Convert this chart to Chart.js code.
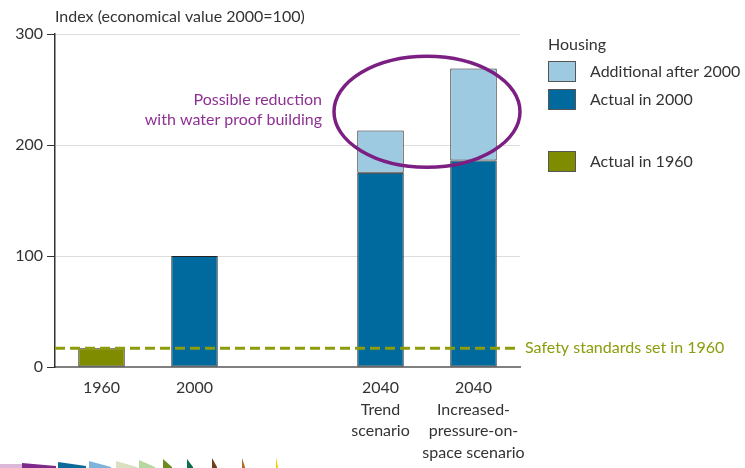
<!DOCTYPE html>
<html>
<head>
<meta charset="utf-8">
<script src="https://cdn.jsdelivr.net/npm/chart.js@4.4.1/dist/chart.umd.min.js"></script>
<style>
  html, body { margin: 0; padding: 0; background: #fff; }
  #wrap { width: 745px; height: 468px; }
</style>
</head>
<body>
<div id="wrap"><canvas id="c" width="745" height="468"></canvas></div>
<script>
// --- data ---
const categories = [['1960'], ['2000'], [''], ['2040', 'Trend', 'scenario'], ['2040', 'Increased-', 'pressure-on-', 'space scenario']];
const actual1960 = [17, null, null, null, null];
const actual2000 = [null, 100, null, 175, 186];
const additionalAfter2000 = [null, null, null, 38, 83];
const safetyLevel = 17;
const yTicks = [0, 100, 200, 300];

const FONT = 'Lato, "Open Sans", sans-serif';
const TEXT = '#333333';
const DARK_BLUE = '#006a9e';
const LIGHT_BLUE = '#9ecae1';
const OLIVE = '#7f8c00';
const SAFETY = '#8d9c0a';
const PURPLE = '#7b1f82';

// decorative strip along the bottom edge
const stripShapes = [
  ['#dcb8d8', 0, 22, 464, 464],
  ['#7d2a8a', 22, 56, 463, 466],
  ['#0a6a9a', 58, 86, 462, 466],
  ['#7fb3dc', 89, 111, 461, 467],
  ['#d9e0bf', 116, 137, 461, 467],
  ['#b7d7a0', 139, 155, 460, 467],
  ['#6f8a1f', 163, 172, 459, 467],
  ['#0e6b4e', 187, 193, 459, 467],
  ['#6b3f1e', 212, 217, 458, 467],
  ['#b06a2a', 242, 245, 458, 467],
  ['#f0d000', 276, 278, 457, 467]
];

const extras = {
  id: 'extras',
  afterDraw(chart) {
    const { ctx, chartArea, scales: { x, y } } = chart;
    ctx.save();

    // safety line
    const sy = y.getPixelForValue(safetyLevel);
    ctx.strokeStyle = SAFETY;
    ctx.lineWidth = 3;
    ctx.setLineDash([10, 5]);
    ctx.beginPath();
    ctx.moveTo(chartArea.left, sy);
    ctx.lineTo(chartArea.right, sy);
    ctx.stroke();
    ctx.setLineDash([]);
    ctx.fillStyle = SAFETY;
    ctx.font = '16px ' + FONT;
    ctx.textBaseline = 'middle';
    ctx.textAlign = 'left';
    ctx.fillText('Safety standards set in 1960', chartArea.right + 5, sy);

    // axis title
    ctx.fillStyle = TEXT;
    ctx.textBaseline = 'middle';
    ctx.fillText('Index (economical value 2000=100)', chartArea.left, 17);

    // ellipse around the 2040 additional parts
    const x3 = x.getPixelForValue(3), x4 = x.getPixelForValue(4);
    const cy = y.getPixelForValue(230);
    const ry = y.getPixelForValue(180) - cy;
    ctx.strokeStyle = PURPLE;
    ctx.lineWidth = 3.5;
    ctx.beginPath();
    ctx.ellipse((x3 + x4) / 2, cy, x4 - x3, ry, 0, 0, Math.PI * 2);
    ctx.stroke();

    // annotation
    ctx.fillStyle = '#8e3193';
    ctx.textAlign = 'right';
    ctx.fillText('Possible reduction', 322, 100);
    ctx.fillText('with water proof building', 322, 120);

    // legend
    ctx.textAlign = 'left';
    ctx.fillStyle = TEXT;
    ctx.fillText('Housing', 548, 45);
    const items = [
      [LIGHT_BLUE, 'Additional after 2000', 61],
      [DARK_BLUE, 'Actual in 2000', 89],
      [OLIVE, 'Actual in 1960', 151]
    ];
    items.forEach(([col, label, top]) => {
      ctx.fillStyle = col;
      ctx.fillRect(548, top, 28, 21);
      ctx.strokeStyle = '#555';
      ctx.lineWidth = 1;
      ctx.strokeRect(548.5, top + 0.5, 27, 20);
      ctx.fillStyle = TEXT;
      ctx.fillText(label, 590, top + 11);
    });

    // bottom strip
    stripShapes.forEach(([col, x0, x1, t0, t1]) => {
      ctx.fillStyle = col;
      ctx.beginPath();
      ctx.moveTo(x0, 468);
      ctx.lineTo(x0, t0);
      ctx.lineTo(x1, t1);
      ctx.lineTo(x1, 468);
      ctx.closePath();
      ctx.fill();
    });

    ctx.restore();
  }
};

const barStyle = { borderColor: '#222', borderWidth: 1, borderSkipped: false, categoryPercentage: 1, barPercentage: 0.5 };

new Chart(document.getElementById('c'), {
  type: 'bar',
  data: {
    labels: categories,
    datasets: [
      { label: 'Actual in 1960', data: actual1960, backgroundColor: OLIVE, ...barStyle },
      { label: 'Actual in 2000', data: actual2000, backgroundColor: DARK_BLUE, ...barStyle },
      { label: 'Additional after 2000', data: additionalAfter2000, backgroundColor: LIGHT_BLUE, ...barStyle }
    ]
  },
  options: {
    responsive: false,
    animation: false,
    layout: { padding: { top: 34, right: 225, left: 0, bottom: 0 } },
    plugins: { legend: { display: false }, tooltip: { enabled: false } },
    scales: {
      x: {
        stacked: true,
        afterFit: (s) => { s.height = 101; },
        grid: { display: false },
        border: { color: '#808080', width: 2 },
        ticks: { color: TEXT, font: { family: FONT, size: 16, lineHeight: 1.35 }, padding: 2, maxRotation: 0, autoSkip: false }
      },
      y: {
        stacked: true,
        min: 0,
        max: 300,
        afterFit: (s) => { s.width = 55; },
        afterBuildTicks: (s) => { s.ticks = yTicks.map(v => ({ value: v })); },
        grid: { color: '#dddddd', tickColor: '#333', tickLength: 8 },
        border: { color: '#333', width: 1.5 },
        ticks: { color: TEXT, font: { family: FONT, size: 16 }, padding: 4 }
      }
    }
  },
  plugins: [extras]
});
</script>
</body>
</html>
